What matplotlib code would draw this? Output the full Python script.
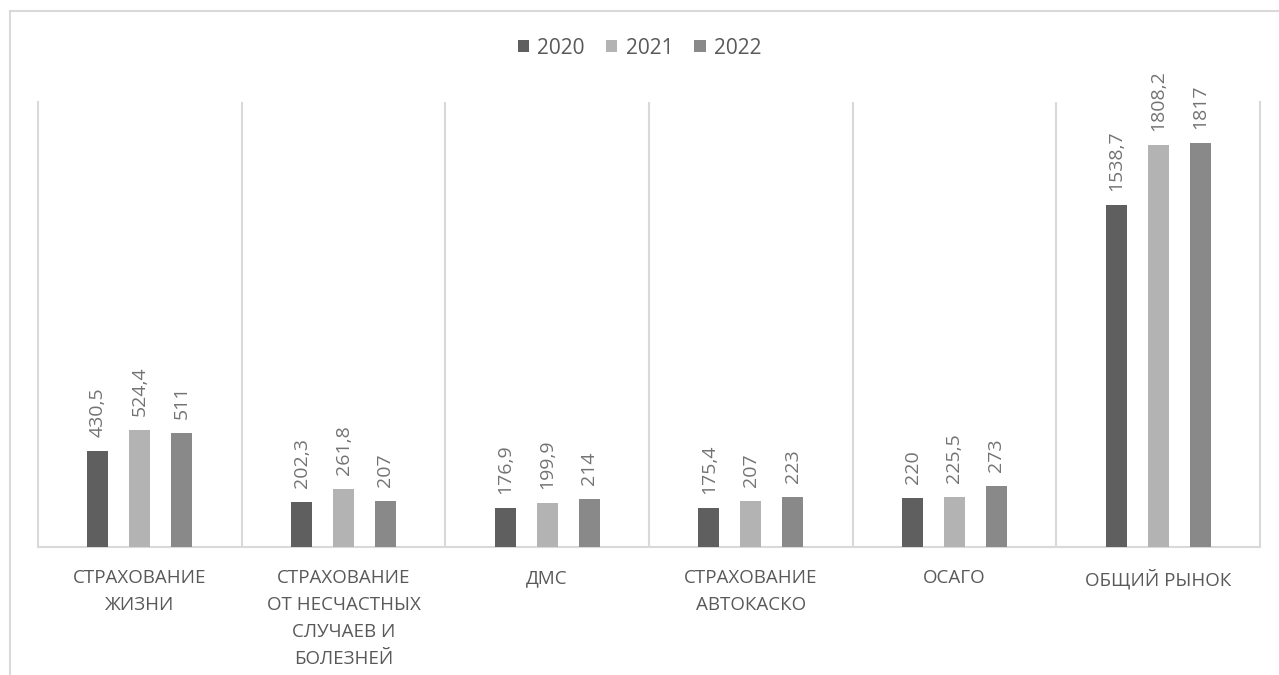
"""Insurance premiums by line of business, 2020-2022."""

import matplotlib

matplotlib.use("Agg")

import matplotlib.pyplot as plt
import numpy as np
from matplotlib.lines import Line2D

categories = [
    "СТРАХОВАНИЕ\nЖИЗНИ",
    "СТРАХОВАНИЕ\nОТ НЕСЧАСТНЫХ\nСЛУЧАЕВ И\nБОЛЕЗНЕЙ",
    "ДМС",
    "СТРАХОВАНИЕ\nАВТОКАСКО",
    "ОСАГО",
    "ОБЩИЙ РЫНОК",
]
years = ["2020", "2021", "2022"]
values_2020 = [430.5, 202.3, 176.9, 175.4, 220, 1538.7]
values_2021 = [524.4, 261.8, 199.9, 207, 225.5, 1808.2]
values_2022 = [511, 207, 214, 223, 273, 1817]

colors = ["#5f5f5f", "#b3b3b3", "#898989"]
text_color = "#595959"
label_color = "#737373"
grid_color = "#d9d9d9"

plt.rcParams["font.family"] = ["Open Sans", "DejaVu Sans"]

fig = plt.figure(figsize=(12.79, 6.75), dpi=100)
ax = fig.add_axes([38 / 1279, 1 - 547 / 675, (1260 - 38) / 1279, (547 - 102) / 675])

x = np.arange(len(categories))
offset = 0.206
width = 0.103


def fmt(v):
    s = f"{v:.1f}".replace(".", ",")
    return s[:-2] if s.endswith(",0") else s


for i, (vals, year) in enumerate(zip([values_2020, values_2021, values_2022], years)):
    bars = ax.bar(x + (i - 1) * offset, vals, width, color=colors[i], label=year, zorder=3)
    for bar, v in zip(bars, vals):
        ax.annotate(
            fmt(v),
            (bar.get_x() + bar.get_width() / 2, bar.get_height()),
            xytext=(0, 10),
            textcoords="offset points",
            rotation=90,
            ha="center",
            va="bottom",
            fontsize=14,
            color=label_color,
        )

ax.set_xlim(-0.5, len(categories) - 0.5)
ax.set_ylim(0, 2000)
ax.set_yticks([])
ax.set_xticks(x)
ax.set_xticklabels(categories, fontsize=13.5, color=text_color, linespacing=1.63)
ax.tick_params(axis="x", length=0, pad=16)

for b in np.arange(0.5, len(categories) - 0.5):
    ax.axvline(b, color=grid_color, linewidth=1.5, zorder=1)

ax.spines["top"].set_visible(False)
for side in ["left", "right", "bottom"]:
    ax.spines[side].set_color(grid_color)
    ax.spines[side].set_linewidth(1.5)

ax.legend(
    loc="center",
    bbox_to_anchor=(0.5, 1 - 48 / 675),
    bbox_transform=fig.transFigure,
    ncol=3,
    frameon=False,
    fontsize=15,
    labelcolor=text_color,
    handlelength=0.55,
    handleheight=0.55,
    handletextpad=0.4,
    columnspacing=1.0,
)

# outer chart border (only top and left are visible in the crop)
fig.add_artist(Line2D([9.5 / 1279, 9.5 / 1279], [0, 1 - 11 / 675], color=grid_color, linewidth=1.5))
fig.add_artist(Line2D([9.5 / 1279, 1], [1 - 11 / 675, 1 - 11 / 675], color=grid_color, linewidth=1.5))

fig.savefig("out.png", dpi=100)
